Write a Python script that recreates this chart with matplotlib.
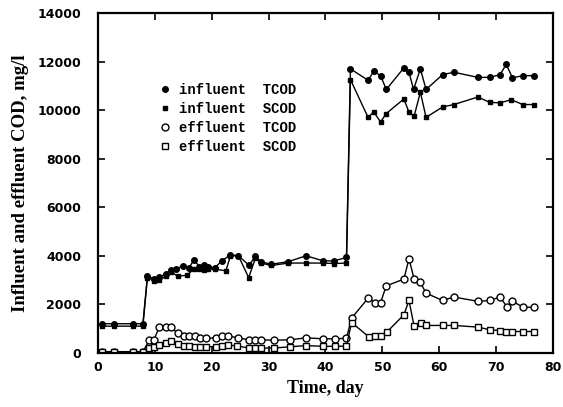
import matplotlib.pyplot as plt

# influent TCOD (filled circles)
inf_tcod_day = [0.7, 2.9, 6.1, 7.9, 8.7, 9.8, 10.8, 11.9, 12.9, 13.7, 15.0, 16.0, 16.9,
                17.8, 18.6, 19.4, 20.5, 21.8, 23.3, 24.7, 26.6, 27.7, 28.7, 30.5,
                33.5, 36.6, 39.6, 41.5, 43.7, 44.4, 47.5, 48.5, 49.7, 50.7, 53.8,
                54.7, 55.5, 56.7, 57.7, 60.6, 62.6, 66.8, 68.9, 70.7, 71.8, 72.9,
                74.7, 76.7]
inf_tcod = [1200, 1200, 1200, 1200, 3170, 3050, 3120, 3250, 3420, 3450, 3590, 3500, 3840,
            3550, 3600, 3550, 3500, 3790, 4040, 4000, 3600, 4000, 3750, 3650,
            3760, 4000, 3790, 3790, 3930, 11700, 11230, 11600, 11420, 10850, 11740,
            11560, 10850, 11700, 10850, 11460, 11560, 11350, 11350, 11460, 11880, 11330,
            11420, 11420]

# influent SCOD (filled squares)
inf_scod_day = [0.7, 2.9, 6.1, 7.9, 8.7, 9.8, 10.8, 11.9, 12.9, 14.0, 15.6, 16.9,
                17.8, 18.6, 19.4, 20.5, 22.5, 23.3, 24.7, 26.5, 27.7, 28.7, 30.5,
                33.5, 36.6, 39.6, 41.5, 43.7, 44.4, 47.5, 48.5, 49.7, 50.7, 53.8,
                54.7, 55.6, 56.7, 57.7, 60.6, 62.6, 66.8, 68.9, 70.7, 72.7, 74.7, 76.7]
inf_scod = [1100, 1100, 1100, 1100, 3100, 2980, 3000, 3150, 3350, 3150, 3200, 3450,
            3450, 3400, 3450, 3450, 3380, 4000, 4000, 3100, 3900, 3700, 3600,
            3700, 3700, 3700, 3680, 3700, 11260, 9700, 9930, 9510, 9860, 10460,
            9910, 9750, 10740, 9700, 10130, 10230, 10540, 10320, 10300, 10430, 10230, 10230]

# effluent TCOD (open circles)
eff_tcod_day = [0.7, 2.9, 6.1, 7.9, 9.0, 9.8, 10.8, 11.9, 12.9, 14.0, 15.1, 16.0, 17.0,
                18.0, 19.0, 20.7, 21.8, 22.8, 24.6, 26.5, 27.7, 28.7, 30.9, 33.8,
                36.6, 39.6, 41.6, 43.7, 44.6, 47.5, 48.7, 49.7, 50.7, 53.8, 54.7,
                55.6, 56.7, 57.7, 60.6, 62.6, 66.9, 68.9, 70.7, 71.9, 72.9, 74.8, 76.7]
eff_tcod = [50, 50, 50, 50, 510, 520, 1060, 1060, 1050, 810, 700, 680, 680,
            620, 600, 620, 690, 700, 620, 540, 540, 540, 520, 540,
            620, 580, 580, 600, 1430, 2250, 2070, 2070, 2760, 3040, 3880,
            3040, 2900, 2460, 2160, 2300, 2120, 2160, 2300, 1910, 2120, 1880, 1880]

# effluent SCOD (open squares)
eff_scod_day = [0.7, 2.9, 6.1, 7.9, 9.0, 9.8, 10.8, 11.9, 12.9, 14.0, 15.1, 16.0, 17.0,
                18.0, 19.0, 20.7, 21.8, 22.8, 24.4, 26.5, 27.7, 28.7, 30.9, 33.8,
                36.6, 39.6, 41.6, 43.7, 44.6, 47.6, 48.7, 49.7, 50.9, 53.8, 54.7,
                55.6, 56.8, 57.7, 60.6, 62.6, 66.9, 68.9, 70.7, 71.8, 72.9, 74.8, 76.7]
eff_scod = [20, 20, 20, 20, 190, 260, 330, 400, 470, 370, 300, 270, 260,
            250, 250, 260, 300, 320, 290, 200, 200, 200, 200, 250,
            300, 270, 270, 280, 1250, 670, 700, 700, 880, 1570, 2160,
            1090, 1220, 1130, 1130, 1130, 1060, 950, 920, 880, 880, 880, 880]

x_ticks = [0, 10, 20, 30, 40, 50, 60, 70, 80]
y_ticks = [0, 2000, 4000, 6000, 8000, 10000, 12000, 14000]

fig = plt.figure(figsize=(5.63, 4.07), dpi=100)
ax = fig.add_axes([0.174, 0.133, 0.808, 0.835])

lw = 1.0
ax.plot(inf_tcod_day, inf_tcod, '-o', color='black', lw=lw, ms=4,
        label='influent  TCOD')
ax.plot(inf_scod_day, inf_scod, '-s', color='black', lw=lw, ms=3.5,
        label='influent  SCOD')
ax.plot(eff_tcod_day, eff_tcod, '-o', color='black', lw=lw, ms=5,
        mfc='white', mew=1.0, label='effluent  TCOD')
ax.plot(eff_scod_day, eff_scod, '-s', color='black', lw=lw, ms=4.5,
        mfc='white', mew=1.0, label='effluent  SCOD')

ax.set_xlim(0, 80)
ax.set_ylim(0, 14000)
ax.set_xticks(x_ticks)
ax.set_yticks(y_ticks)
ax.tick_params(direction='in', top=True, right=True, length=5, width=1.2,
               labelsize=9)
ax.tick_params(axis='x', pad=6)
ax.tick_params(axis='y', pad=12)
for lab in ax.get_xticklabels() + ax.get_yticklabels():
    lab.set_fontweight('bold')
for sp in ax.spines.values():
    sp.set_linewidth(1.6)

ax.set_xlabel('Time, day', family='Liberation Serif', fontweight='bold',
              fontsize=13, labelpad=4)
ax.set_ylabel('Influent and effluent COD, mg/l', family='Liberation Serif',
              fontweight='bold', fontsize=13.5, labelpad=6)

leg = ax.legend(loc='upper left', bbox_to_anchor=(0.12, 0.83), frameon=False,
                handlelength=0, handletextpad=1.0, labelspacing=0.35,
                prop={'family': 'Liberation Mono', 'weight': 'bold', 'size': 10})
for h in leg.legend_handles:
    h.set_linestyle('None')

fig.savefig('out.png', dpi=100)
